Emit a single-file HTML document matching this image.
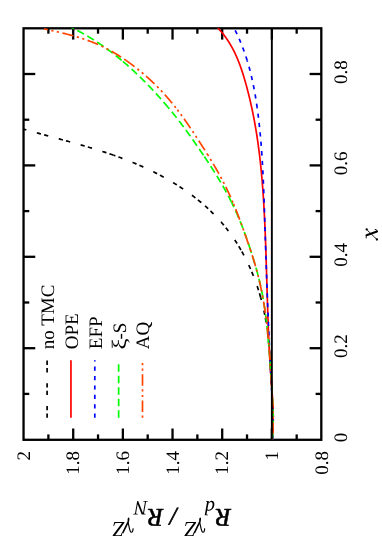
<!DOCTYPE html>
<html><head><meta charset="utf-8"><title>plot</title>
<style>html,body{margin:0;padding:0;background:#fff;}svg{display:block;will-change:transform;}text{font-family:"Liberation Serif",serif;fill:#000;text-rendering:geometricPrecision;}</style>
</head><body>
<svg width="382" height="544" viewBox="0 0 382 544">
<rect width="382" height="544" fill="#fff"/>
<defs><clipPath id="cp"><rect x="23.55" y="28.30" width="297.75" height="411.50"/></clipPath></defs>
<g stroke="#000" stroke-width="2.3" fill="none">
<line x1="48.38" y1="439.80" x2="48.38" y2="434.40"/>
<line x1="48.38" y1="28.30" x2="48.38" y2="33.70"/>
<line x1="73.21" y1="439.80" x2="73.21" y2="428.50"/>
<line x1="73.21" y1="28.30" x2="73.21" y2="39.60"/>
<line x1="98.04" y1="439.80" x2="98.04" y2="434.40"/>
<line x1="98.04" y1="28.30" x2="98.04" y2="33.70"/>
<line x1="122.87" y1="439.80" x2="122.87" y2="428.50"/>
<line x1="122.87" y1="28.30" x2="122.87" y2="39.60"/>
<line x1="147.70" y1="439.80" x2="147.70" y2="434.40"/>
<line x1="147.70" y1="28.30" x2="147.70" y2="33.70"/>
<line x1="172.53" y1="439.80" x2="172.53" y2="428.50"/>
<line x1="172.53" y1="28.30" x2="172.53" y2="39.60"/>
<line x1="197.36" y1="439.80" x2="197.36" y2="434.40"/>
<line x1="197.36" y1="28.30" x2="197.36" y2="33.70"/>
<line x1="222.19" y1="439.80" x2="222.19" y2="428.50"/>
<line x1="222.19" y1="28.30" x2="222.19" y2="39.60"/>
<line x1="247.02" y1="439.80" x2="247.02" y2="434.40"/>
<line x1="247.02" y1="28.30" x2="247.02" y2="33.70"/>
<line x1="271.85" y1="439.80" x2="271.85" y2="428.50"/>
<line x1="271.85" y1="28.30" x2="271.85" y2="39.60"/>
<line x1="296.68" y1="439.80" x2="296.68" y2="434.40"/>
<line x1="296.68" y1="28.30" x2="296.68" y2="33.70"/>
<line x1="23.55" y1="393.90" x2="29.25" y2="393.90"/>
<line x1="321.30" y1="393.90" x2="315.60" y2="393.90"/>
<line x1="23.55" y1="348.20" x2="35.25" y2="348.20"/>
<line x1="321.30" y1="348.20" x2="309.60" y2="348.20"/>
<line x1="23.55" y1="302.50" x2="29.25" y2="302.50"/>
<line x1="321.30" y1="302.50" x2="315.60" y2="302.50"/>
<line x1="23.55" y1="256.80" x2="35.25" y2="256.80"/>
<line x1="321.30" y1="256.80" x2="309.60" y2="256.80"/>
<line x1="23.55" y1="211.10" x2="29.25" y2="211.10"/>
<line x1="321.30" y1="211.10" x2="315.60" y2="211.10"/>
<line x1="23.55" y1="165.40" x2="35.25" y2="165.40"/>
<line x1="321.30" y1="165.40" x2="309.60" y2="165.40"/>
<line x1="23.55" y1="119.70" x2="29.25" y2="119.70"/>
<line x1="321.30" y1="119.70" x2="315.60" y2="119.70"/>
<line x1="23.55" y1="74.00" x2="35.25" y2="74.00"/>
<line x1="321.30" y1="74.00" x2="309.60" y2="74.00"/>
<rect x="23.55" y="28.30" width="297.75" height="411.50"/>
</g>
<g fill="none" stroke-width="1.7" clip-path="url(#cp)">
<path d="M272.09 439.60 L272.14 439.25 L272.23 438.51 L272.32 437.76 L272.41 437.02 L272.49 436.27 L272.57 435.53 L272.64 434.78 L272.71 434.03 L272.78 433.29 L272.84 432.54 L272.89 431.79 L272.94 431.04 L272.99 430.29 L273.03 429.55 L273.07 428.80 L273.11 428.05 L273.14 427.30 L273.17 426.55 L273.19 425.80 L273.22 425.05 L273.23 424.30 L273.25 423.55 L273.26 422.80 L273.27 422.05 L273.27 421.30 L273.28 420.55 L273.28 419.80 L273.27 419.05 L273.27 418.30 L273.26 417.55 L273.25 416.80 L273.23 416.04 L273.22 415.29 L273.20 414.54 L273.18 413.79 L273.15 413.04 L273.13 412.28 L273.10 411.53 L273.07 410.78 L273.04 410.03 L273.01 409.27 L272.98 408.52 L272.94 407.77 L272.90 407.02 L272.86 406.26 L272.82 405.51 L272.78 404.76 L272.74 404.00 L272.70 403.25 L272.65 402.50 L272.61 401.75 L272.56 400.99 L272.51 400.24 L272.46 399.49 L272.42 398.73 L272.37 397.98 L272.32 397.23 L272.27 396.47 L272.22 395.72 L272.17 394.97 L272.11 394.21 L272.06 393.46 L272.01 392.71 L271.98 392.20" stroke="#000" stroke-dasharray="4.3 3.2 4.3 10.9"/>
<path d="M271.98 392.20 L271.96 391.96 L271.91 391.20 L271.86 390.45 L271.81 389.70 L271.76 388.94 L271.71 388.19 L271.66 387.44 L271.62 386.69 L271.57 385.93 L271.52 385.18 L271.48 384.43 L271.43 383.68 L271.38 382.93 L271.34 382.17 L271.29 381.42 L271.25 380.67 L271.21 379.92 L271.16 379.17 L271.12 378.41 L271.07 377.66 L271.03 376.91 L270.99 376.16 L270.95 375.41 L270.90 374.66 L270.86 373.91 L270.82 373.16 L270.77 372.41 L270.73 371.66 L270.69 370.91 L270.64 370.16 L270.60 369.41 L270.56 368.66 L270.51 367.91 L270.47 367.16 L270.42 366.41 L270.38 365.66 L270.33 364.91 L270.29 364.16 L270.24 363.41 L270.20 362.66 L270.15 361.91 L270.10 361.16 L270.06 360.41 L270.01 359.66 L269.96 358.92 L269.91 358.17 L269.86 357.42 L269.81 356.67 L269.75 355.92 L269.70 355.18 L269.65 354.43 L269.59 353.68 L269.54 352.93 L269.48 352.19 L269.43 351.44 L269.37 350.69 L269.31 349.95 L269.25 349.20 L269.19 348.45 L269.13 347.71 L269.06 346.96 L269.00 346.22 L268.93 345.47 L268.87 344.80" stroke="#000" stroke-dasharray="4.3 3.2 4.3 10.9"/>
<path d="M268.87 344.80 L268.87 344.72 L268.80 343.98 L268.73 343.23 L268.66 342.49 L268.59 341.74 L268.51 341.00 L268.44 340.25 L268.36 339.51 L268.28 338.77 L268.21 338.02 L268.12 337.28 L268.04 336.53 L267.96 335.79 L267.87 335.05 L267.78 334.30 L267.70 333.56 L267.61 332.82 L267.51 332.08 L267.42 331.33 L267.32 330.59 L267.22 329.85 L267.12 329.11 L267.02 328.37 L266.92 327.62 L266.81 326.88 L266.70 326.14 L266.59 325.40 L266.48 324.66 L266.37 323.92 L266.25 323.18 L266.13 322.44 L266.01 321.70 L265.89 320.96 L265.76 320.22 L265.64 319.48 L265.51 318.74 L265.37 318.00 L265.24 317.26 L265.10 316.53 L264.96 315.79 L264.82 315.05 L264.68 314.31 L264.53 313.58 L264.38 312.84 L264.23 312.10 L264.07 311.36 L263.92 310.63 L263.76 309.89 L263.59 309.16 L263.43 308.42 L263.26 307.69 L263.09 306.95 L262.92 306.22 L262.74 305.48 L262.57 304.75 L262.39 304.02 L262.21 303.29 L262.02 302.55 L261.83 301.82 L261.64 301.09 L261.45 300.36 L261.26 299.63 L261.06 298.90 L260.86 298.17 L260.66 297.45 L260.65 297.40" stroke="#000" stroke-dasharray="4.3 3.2 4.3 10.9"/>
<path d="M260.65 297.40 L260.45 296.72 L260.25 295.99 L260.04 295.27 L259.82 294.54 L259.61 293.82 L259.39 293.09 L259.17 292.37 L258.95 291.64 L258.73 290.92 L258.50 290.20 L258.27 289.48 L258.04 288.76 L257.80 288.04 L257.56 287.32 L257.32 286.61 L257.08 285.89 L256.84 285.17 L256.59 284.46 L256.34 283.74 L256.09 283.03 L255.83 282.32 L255.58 281.61 L255.32 280.90 L255.05 280.19 L254.79 279.48 L254.52 278.77 L254.25 278.06 L253.98 277.36 L253.70 276.65 L253.43 275.95 L253.15 275.25 L252.86 274.55 L252.58 273.85 L252.29 273.15 L252.00 272.45 L251.71 271.75 L251.41 271.05 L251.12 270.36 L250.82 269.67 L250.51 268.97 L250.21 268.28 L249.90 267.59 L249.59 266.90 L249.28 266.22 L248.96 265.53 L248.65 264.84 L248.33 264.16 L248.00 263.48 L247.68 262.80 L247.35 262.12 L247.02 261.44 L246.69 260.76 L246.35 260.09 L246.01 259.41 L245.67 258.74 L245.33 258.07 L244.99 257.40 L244.64 256.73 L244.29 256.06 L243.93 255.40 L243.58 254.73 L243.22 254.07 L242.86 253.41 L242.50 252.75 L242.13 252.09 L241.76 251.43 L241.39 250.78 L241.02 250.12 L240.95 250.00" stroke="#000" stroke-dasharray="4.3 3.2 4.3 10.9"/>
<path d="M240.95 250.00 L240.64 249.47 L240.27 248.82 L239.89 248.17 L239.50 247.53 L239.12 246.88 L238.73 246.24 L238.34 245.60 L237.94 244.96 L237.55 244.32 L237.15 243.68 L236.75 243.05 L236.35 242.41 L235.94 241.78 L235.53 241.15 L235.12 240.53 L234.71 239.90 L234.29 239.28 L233.87 238.65 L233.45 238.03 L233.03 237.42 L232.60 236.80 L232.17 236.19 L231.74 235.57 L231.31 234.96 L230.87 234.35 L230.43 233.75 L229.99 233.14 L229.55 232.54 L229.10 231.94 L228.65 231.34 L228.20 230.74 L227.75 230.15 L227.29 229.56 L226.83 228.97 L226.37 228.38 L225.91 227.79 L225.44 227.21 L224.97 226.63 L224.50 226.05 L224.03 225.47 L223.55 224.90 L223.07 224.32 L222.59 223.75 L222.10 223.19 L221.62 222.62 L221.13 222.06 L220.64 221.49 L220.14 220.94 L219.64 220.38 L219.15 219.82 L218.64 219.27 L218.14 218.72 L217.63 218.17 L217.12 217.63 L216.61 217.08 L216.10 216.54 L215.58 216.00 L215.07 215.46 L214.55 214.93 L214.02 214.40 L213.50 213.87 L212.97 213.34 L212.44 212.81 L211.91 212.29 L211.37 211.77 L210.84 211.25 L210.30 210.73 L209.76 210.21 L209.22 209.70 L208.67 209.19 L208.12 208.68 L207.57 208.17 L207.02 207.67 L206.47 207.17 L205.91 206.66 L205.36 206.17 L204.80 205.67 L204.24 205.18 L203.67 204.68 L203.11 204.19 L202.54 203.71 L201.97 203.22 L201.40 202.74 L201.23 202.60" stroke="#000" stroke-dasharray="4.3 3.2 4.3 10.9"/>
<path d="M201.23 202.60 L200.82 202.25 L200.25 201.78 L199.67 201.30 L199.09 200.82 L198.51 200.35 L197.93 199.88 L197.34 199.41 L196.76 198.94 L196.17 198.48 L195.58 198.01 L194.99 197.55 L194.39 197.09 L193.80 196.64 L193.20 196.18 L192.60 195.73 L192.00 195.28 L191.40 194.83 L190.79 194.38 L190.18 193.94 L189.58 193.49 L188.97 193.05 L188.36 192.62 L187.74 192.18 L187.13 191.74 L186.51 191.31 L185.90 190.88 L185.28 190.45 L184.66 190.02 L184.04 189.60 L183.41 189.18 L182.79 188.75 L182.16 188.34 L181.53 187.92 L180.90 187.50 L180.27 187.09 L179.64 186.68 L179.01 186.27 L178.37 185.86 L177.73 185.46 L177.10 185.05 L176.46 184.65 L175.82 184.25 L175.17 183.85 L174.53 183.46 L173.89 183.06 L173.24 182.67 L172.59 182.28 L171.95 181.89 L171.30 181.51 L170.65 181.12 L169.99 180.74 L169.34 180.36 L168.69 179.98 L168.03 179.60 L167.37 179.23 L166.72 178.85 L166.06 178.48 L165.40 178.11 L164.74 177.74 L164.07 177.38 L163.41 177.01 L162.75 176.65 L162.08 176.29 L161.41 175.93 L160.75 175.57 L160.08 175.22 L159.41 174.87 L158.74 174.51 L158.07 174.16 L157.39 173.82 L156.72 173.47 L156.05 173.13 L155.37 172.78 L154.70 172.44 L154.02 172.10 L153.34 171.77 L152.66 171.43 L151.99 171.10 L151.31 170.76 L150.62 170.43 L149.94 170.11 L149.26 169.78 L148.58 169.45 L147.89 169.13 L147.21 168.81 L146.52 168.49 L145.84 168.17 L145.15 167.85 L144.46 167.54 L143.78 167.23 L143.09 166.91 L142.40 166.61 L141.71 166.30 L141.02 165.99 L140.33 165.69 L139.64 165.38 L138.95 165.08 L138.25 164.78 L137.56 164.49 L136.87 164.19 L136.17 163.89 L135.48 163.60 L134.78 163.31 L134.09 163.02 L133.39 162.73 L132.70 162.45 L132.00 162.16 L131.30 161.88 L130.61 161.60 L129.91 161.32 L129.21 161.04 L128.51 160.76 L127.81 160.49 L127.12 160.21 L126.42 159.94 L125.72 159.67 L125.01 159.40 L124.31 159.13 L123.61 158.87 L122.91 158.60 L122.21 158.34 L121.51 158.08 L120.80 157.81 L120.10 157.56 L119.40 157.30 L118.69 157.04 L117.99 156.78 L117.28 156.53 L116.58 156.28 L115.87 156.03 L115.17 155.78 L114.46 155.53 L113.76 155.28 L113.53 155.20" stroke="#000" stroke-dasharray="4.3 3.2 4.3 10.9"/>
<path d="M113.53 155.20 L113.05 155.03 L112.34 154.79 L111.63 154.54 L110.93 154.30 L110.22 154.06 L109.51 153.82 L108.80 153.58 L108.09 153.34 L107.38 153.10 L106.67 152.86 L105.96 152.63 L105.25 152.39 L104.54 152.16 L103.83 151.93 L103.12 151.70 L102.41 151.47 L101.70 151.24 L100.98 151.01 L100.27 150.78 L99.56 150.56 L98.84 150.33 L98.13 150.11 L97.42 149.88 L96.70 149.66 L95.99 149.44 L95.27 149.22 L94.56 149.00 L93.84 148.78 L93.13 148.56 L92.41 148.34 L91.70 148.12 L90.98 147.91 L90.26 147.69 L89.55 147.48 L88.83 147.26 L88.11 147.05 L87.39 146.84 L86.68 146.63 L85.96 146.41 L85.24 146.20 L84.52 145.99 L83.80 145.78 L83.08 145.58 L82.36 145.37 L81.64 145.16 L80.92 144.95 L80.20 144.75 L79.48 144.54 L78.76 144.33 L78.04 144.13 L77.32 143.92 L76.60 143.72 L75.88 143.52 L75.16 143.31 L74.44 143.11 L73.71 142.91 L72.99 142.71 L72.27 142.50 L71.55 142.30 L70.82 142.10 L70.10 141.90 L69.38 141.70 L68.65 141.50 L67.93 141.30 L67.21 141.10 L66.48 140.90 L65.76 140.71 L65.03 140.51 L64.31 140.31 L63.58 140.11 L62.86 139.91 L62.13 139.71 L61.41 139.52 L60.68 139.32 L59.96 139.12 L59.23 138.92 L58.51 138.73 L57.78 138.53 L57.05 138.33 L56.33 138.14 L55.60 137.94 L54.87 137.74 L54.15 137.55 L53.42 137.35 L52.69 137.15 L51.97 136.96 L51.24 136.76 L50.51 136.56 L49.78 136.36 L49.06 136.17 L48.33 135.97 L47.60 135.77 L46.87 135.57 L46.14 135.38 L45.42 135.18 L44.69 134.98 L43.96 134.78 L43.23 134.58 L42.50 134.39 L41.77 134.19 L41.04 133.99 L40.31 133.79 L39.59 133.59 L38.86 133.39 L38.13 133.19 L37.40 132.99 L36.67 132.79 L35.94 132.59 L35.21 132.38 L34.48 132.18 L33.75 131.98 L33.02 131.78 L32.29 131.57 L31.56 131.37 L30.83 131.17 L30.10 130.96 L29.37 130.76 L28.64 130.55 L27.91 130.35 L27.18 130.14 L26.45 129.93 L25.72 129.72 L24.99 129.52 L24.26 129.31 L18.49 127.66 L18.49 107.80" stroke="#000" stroke-dasharray="4.3 3.2 4.3 10.9"/>
<path d="M272.15 440.03 L272.22 439.33 L272.30 438.63 L272.37 437.93 L272.43 437.23 L272.50 436.53 L272.56 435.83 L272.62 435.13 L272.67 434.43 L272.73 433.73 L272.78 433.03 L272.82 432.33 L272.87 431.63 L272.91 430.92 L272.95 430.22 L272.98 429.52 L273.01 428.82 L273.05 428.12 L273.07 427.42 L273.10 426.72 L273.12 426.03 L273.14 425.33 L273.16 424.63 L273.18 423.93 L273.19 423.23 L273.20 422.53 L273.21 421.83 L273.22 421.13 L273.22 420.43 L273.22 419.73 L273.22 419.03 L273.22 418.33 L273.22 417.63 L273.21 416.93 L273.20 416.23 L273.19 415.53 L273.18 414.83 L273.17 414.14 L273.16 413.44 L273.14 412.74 L273.12 412.04 L273.10 411.34 L273.08 410.64 L273.06 409.94 L273.03 409.24 L273.01 408.54 L272.98 407.85 L272.95 407.15 L272.92 406.45 L272.89 405.75 L272.85 405.05 L272.82 404.35 L272.78 403.65 L272.75 402.96 L272.71 402.26 L272.67 401.56 L272.63 400.86 L272.59 400.16 L272.55 399.46 L272.51 398.76 L272.46 398.06 L272.42 397.37 L272.38 396.67 L272.33 395.97 L272.28 395.27 L272.24 394.57 L272.19 393.87 L272.14 393.18 L272.09 392.48 L272.04 391.78 L271.99 391.08 L271.94 390.38 L271.89 389.68 L271.84 388.98 L271.79 388.29 L271.74 387.59 L271.69 386.89 L271.63 386.19 L271.58 385.49 L271.53 384.79 L271.48 384.09 L271.43 383.39 L271.37 382.70 L271.32 382.00 L271.27 381.30 L271.22 380.60 L271.16 379.90 L271.11 379.20 L271.06 378.50 L271.01 377.80 L270.96 377.11 L270.91 376.41 L270.86 375.71 L270.81 375.01 L270.76 374.31 L270.71 373.61 L270.66 372.91 L270.62 372.21 L270.57 371.51 L270.52 370.81 L270.48 370.11 L270.43 369.41 L270.38 368.72 L270.34 368.02 L270.29 367.32 L270.25 366.62 L270.21 365.92 L270.16 365.22 L270.12 364.52 L270.08 363.82 L270.03 363.12 L269.99 362.42 L269.95 361.72 L269.91 361.02 L269.87 360.32 L269.83 359.62 L269.79 358.92 L269.75 358.22 L269.71 357.52 L269.67 356.82 L269.63 356.12 L269.59 355.42 L269.55 354.72 L269.51 354.02 L269.48 353.32 L269.44 352.62 L269.40 351.92 L269.37 351.22 L269.33 350.52 L269.29 349.82 L269.26 349.12 L269.22 348.42 L269.19 347.72 L269.15 347.02 L269.12 346.32 L269.09 345.62 L269.05 344.92 L269.02 344.22 L268.99 343.52 L268.95 342.82 L268.92 342.12 L268.89 341.42 L268.86 340.72 L268.83 340.02 L268.79 339.32 L268.76 338.62 L268.73 337.92 L268.70 337.22 L268.67 336.52 L268.64 335.82 L268.61 335.12 L268.58 334.42 L268.55 333.72 L268.52 333.02 L268.49 332.31 L268.47 331.61 L268.44 330.91 L268.41 330.21 L268.38 329.51 L268.35 328.81 L268.33 328.11 L268.30 327.41 L268.27 326.71 L268.24 326.01 L268.22 325.31 L268.19 324.61 L268.17 323.91 L268.14 323.21 L268.11 322.51 L268.09 321.80 L268.06 321.10 L268.04 320.40 L268.01 319.70 L267.99 319.00 L267.96 318.30 L267.94 317.60 L267.91 316.90 L267.89 316.20 L267.86 315.50 L267.84 314.80 L267.82 314.10 L267.79 313.40 L267.77 312.69 L267.75 311.99 L267.72 311.29 L267.70 310.59 L267.68 309.89 L267.65 309.19 L267.63 308.49 L267.61 307.79 L267.59 307.09 L267.56 306.39 L267.54 305.69 L267.52 304.98 L267.50 304.28 L267.48 303.58 L267.45 302.88 L267.43 302.18 L267.41 301.48 L267.39 300.78 L267.37 300.08 L267.35 299.38 L267.32 298.68 L267.30 297.97 L267.28 297.27 L267.26 296.57 L267.24 295.87 L267.22 295.17 L267.20 294.47 L267.18 293.77 L267.16 293.07 L267.14 292.37 L267.11 291.67 L267.09 290.96 L267.07 290.26 L267.05 289.56 L267.03 288.86 L267.01 288.16 L266.99 287.46 L266.97 286.76 L266.95 286.06 L266.93 285.36 L266.91 284.66 L266.89 283.96 L266.87 283.25 L266.85 282.55 L266.83 281.85 L266.81 281.15 L266.79 280.45 L266.77 279.75 L266.75 279.05 L266.73 278.35 L266.71 277.65 L266.69 276.95 L266.66 276.24 L266.64 275.54 L266.62 274.84 L266.60 274.14 L266.58 273.44 L266.56 272.74 L266.54 272.04 L266.52 271.34 L266.50 270.64 L266.48 269.94 L266.46 269.24 L266.44 268.54 L266.42 267.83 L266.39 267.13 L266.37 266.43 L266.35 265.73 L266.33 265.03 L266.31 264.33 L266.29 263.63 L266.27 262.93 L266.24 262.23 L266.22 261.53 L266.20 260.83 L266.18 260.13 L266.16 259.43 L266.13 258.73 L266.11 258.03 L266.09 257.32 L266.07 256.62 L266.04 255.92 L266.02 255.22 L266.00 254.52 L265.97 253.82 L265.95 253.12 L265.93 252.42 L265.90 251.72 L265.88 251.02 L265.86 250.32 L265.83 249.62 L265.81 248.92 L265.79 248.22 L265.76 247.52 L265.74 246.82 L265.71 246.12 L265.69 245.42 L265.66 244.72 L265.64 244.02 L265.61 243.32 L265.58 242.62 L265.56 241.92 L265.53 241.22 L265.51 240.52 L265.48 239.82 L265.45 239.12 L265.43 238.42 L265.40 237.72 L265.37 237.02 L265.35 236.32 L265.32 235.62 L265.29 234.92 L265.26 234.22 L265.23 233.52 L265.20 232.82 L265.18 232.12 L265.15 231.42 L265.12 230.72 L265.09 230.02 L265.06 229.32 L265.03 228.62 L265.00 227.92 L264.97 227.22 L264.94 226.52 L264.91 225.82 L264.87 225.12 L264.84 224.42 L264.81 223.72 L264.78 223.02 L264.75 222.32 L264.71 221.62 L264.68 220.92 L264.65 220.22 L264.61 219.52 L264.58 218.82 L264.54 218.12 L264.51 217.42 L264.48 216.73 L264.44 216.03 L264.40 215.33 L264.37 214.63 L264.33 213.93 L264.30 213.23 L264.26 212.53 L264.22 211.83 L264.18 211.13 L264.15 210.43 L264.11 209.73 L264.07 209.04 L264.03 208.34 L263.99 207.64 L263.95 206.94 L263.91 206.24 L263.87 205.54 L263.83 204.84 L263.79 204.15 L263.75 203.45 L263.71 202.75 L263.66 202.05 L263.62 201.35 L263.58 200.65 L263.53 199.95 L263.49 199.26 L263.44 198.56 L263.40 197.86 L263.35 197.16 L263.31 196.46 L263.26 195.77 L263.21 195.07 L263.16 194.37 L263.12 193.67 L263.07 192.97 L263.02 192.28 L262.97 191.58 L262.92 190.88 L262.87 190.18 L262.82 189.48 L262.77 188.79 L262.71 188.09 L262.66 187.39 L262.61 186.69 L262.55 186.00 L262.50 185.30 L262.44 184.60 L262.39 183.90 L262.33 183.21 L262.28 182.51 L262.22 181.81 L262.16 181.12 L262.10 180.42 L262.05 179.72 L261.99 179.02 L261.93 178.33 L261.86 177.63 L261.80 176.93 L261.74 176.24 L261.68 175.54 L261.62 174.84 L261.55 174.15 L261.49 173.45 L261.42 172.75 L261.36 172.06 L261.29 171.36 L261.22 170.67 L261.16 169.97 L261.09 169.27 L261.02 168.58 L260.95 167.88 L260.88 167.19 L260.81 166.49 L260.74 165.79 L260.66 165.10 L260.59 164.40 L260.52 163.71 L260.44 163.01 L260.37 162.32 L260.29 161.62 L260.21 160.92 L260.14 160.23 L260.06 159.53 L259.98 158.84 L259.90 158.14 L259.82 157.45 L259.74 156.75 L259.66 156.06 L259.57 155.36 L259.49 154.67 L259.41 153.97 L259.32 153.28 L259.24 152.58 L259.15 151.89 L259.06 151.20 L258.97 150.50 L258.88 149.81 L258.79 149.11 L258.70 148.42 L258.61 147.72 L258.52 147.03 L258.43 146.34 L258.33 145.64 L258.24 144.95 L258.14 144.25 L258.04 143.56 L257.95 142.87 L257.85 142.17 L257.75 141.48 L257.65 140.79 L257.55 140.09 L257.45 139.40 L257.34 138.71 L257.24 138.01 L257.14 137.32 L257.03 136.63 L256.92 135.93 L256.82 135.24 L256.71 134.55 L256.60 133.86 L256.49 133.16 L256.38 132.47 L256.27 131.78 L256.15 131.09 L256.04 130.39 L255.92 129.70 L255.81 129.01 L255.69 128.32 L255.57 127.63 L255.46 126.93 L255.34 126.24 L255.21 125.55 L255.09 124.86 L254.97 124.17 L254.85 123.48 L254.72 122.78 L254.60 122.09 L254.47 121.40 L254.34 120.71 L254.21 120.02 L254.08 119.33 L253.95 118.64 L253.82 117.95 L253.69 117.26 L253.55 116.57 L253.42 115.88 L253.28 115.19 L253.14 114.50 L253.01 113.81 L252.87 113.12 L252.73 112.43 L252.58 111.74 L252.44 111.05 L252.30 110.36 L252.15 109.67 L252.01 108.98 L251.86 108.29 L251.71 107.60 L251.56 106.92 L251.41 106.23 L251.26 105.54 L251.11 104.85 L250.96 104.17 L250.80 103.48 L250.65 102.79 L250.49 102.11 L250.33 101.42 L250.17 100.73 L250.01 100.05 L249.85 99.36 L249.69 98.68 L249.53 97.99 L249.36 97.31 L249.20 96.62 L249.03 95.94 L248.86 95.26 L248.69 94.57 L248.52 93.89 L248.35 93.21 L248.18 92.52 L248.01 91.84 L247.83 91.16 L247.66 90.48 L247.48 89.80 L247.30 89.12 L247.12 88.44 L246.94 87.76 L246.76 87.08 L246.58 86.40 L246.39 85.72 L246.21 85.04 L246.02 84.37 L245.83 83.69 L245.64 83.01 L245.45 82.33 L245.26 81.66 L245.07 80.98 L244.88 80.31 L244.68 79.63 L244.48 78.96 L244.28 78.29 L244.08 77.62 L243.88 76.94 L243.68 76.27 L243.47 75.60 L243.26 74.93 L243.06 74.27 L242.84 73.60 L242.63 72.93 L242.42 72.27 L242.20 71.60 L241.98 70.94 L241.76 70.27 L241.53 69.61 L241.31 68.95 L241.08 68.29 L240.85 67.63 L240.62 66.97 L240.38 66.32 L240.14 65.66 L239.90 65.01 L239.66 64.36 L239.41 63.71 L239.16 63.06 L238.91 62.41 L238.66 61.76 L238.40 61.11 L238.14 60.47 L237.88 59.83 L237.61 59.18 L237.34 58.54 L237.07 57.91 L236.80 57.27 L236.52 56.63 L236.24 56.00 L235.95 55.37 L235.67 54.74 L235.38 54.11 L235.08 53.48 L234.78 52.86 L234.48 52.23 L234.18 51.61 L233.87 50.99 L233.55 50.37 L233.24 49.76 L232.92 49.14 L232.60 48.53 L232.27 47.92 L231.94 47.31 L231.60 46.71 L231.26 46.10 L230.92 45.50 L230.57 44.90 L230.22 44.30 L229.86 43.71 L229.50 43.12 L229.14 42.53 L228.77 41.94 L228.40 41.35 L228.02 40.77 L227.64 40.19 L227.25 39.61 L226.86 39.03 L226.47 38.46 L226.07 37.88 L225.66 37.31 L225.25 36.75 L224.84 36.18 L224.42 35.62 L223.99 35.06 L223.56 34.51 L223.13 33.95 L222.69 33.40 L222.25 32.85 L221.80 32.31 L221.34 31.77 L220.88 31.23 L220.42 30.69 L219.95 30.16 L219.47 29.62 L218.99 29.10 L214.98 24.63" stroke="#ff0000"/>
<path d="M272.60 439.60 L272.61 439.33 L272.64 438.65 L272.67 437.96 L272.69 437.27 L272.71 436.58 L272.73 435.89 L272.75 435.20 L272.77 434.51 L272.78 433.82 L272.80 433.13 L272.81 432.44 L272.83 431.76 L272.84 431.07 L272.85 430.38 L272.85 429.69 L272.86 429.00 L272.87 428.31 L272.87 427.62 L272.87 426.93 L272.88 426.24 L272.88 425.55 L272.88 424.86 L272.87 424.17 L272.87 423.48 L272.87 422.79 L272.86 422.11 L272.86 421.42 L272.85 420.73 L272.84 420.04 L272.83 419.35 L272.82 418.66 L272.81 417.97 L272.80 417.28 L272.78 416.59 L272.77 415.90 L272.75 415.21 L272.74 414.52 L272.72 413.83 L272.70 413.14 L272.68 412.45 L272.66 411.76 L272.64 411.07 L272.62 410.38 L272.60 409.70 L272.58 409.01 L272.55 408.32 L272.53 407.63 L272.50 406.94 L272.48 406.25 L272.45 405.56 L272.43 404.87 L272.40 404.18 L272.37 403.49 L272.34 402.80 L272.31 402.11 L272.28 401.42 L272.25 400.73 L272.22 400.04 L272.19 399.35 L272.16 398.66 L272.12 397.97 L272.09 397.28 L272.06 396.59 L272.02 395.90 L271.99 395.21 L271.95 394.52 L271.92 393.83 L271.88 393.14 L271.85 392.45 L271.83 392.20" stroke="#0000ff" stroke-dasharray="4.2 5.2"/>
<path d="M271.83 392.20 L271.81 391.76 L271.78 391.07 L271.74 390.38 L271.70 389.69 L271.67 389.00 L271.63 388.32 L271.59 387.63 L271.55 386.94 L271.52 386.25 L271.48 385.56 L271.44 384.87 L271.40 384.18 L271.36 383.49 L271.33 382.80 L271.29 382.11 L271.25 381.42 L271.21 380.73 L271.17 380.04 L271.13 379.35 L271.10 378.66 L271.06 377.97 L271.02 377.28 L270.98 376.59 L270.94 375.90 L270.91 375.21 L270.87 374.52 L270.83 373.83 L270.79 373.14 L270.76 372.45 L270.72 371.76 L270.68 371.07 L270.64 370.38 L270.61 369.69 L270.57 369.00 L270.54 368.31 L270.50 367.62 L270.46 366.93 L270.43 366.24 L270.39 365.55 L270.35 364.86 L270.32 364.17 L270.28 363.48 L270.25 362.79 L270.21 362.10 L270.18 361.41 L270.14 360.72 L270.11 360.03 L270.07 359.34 L270.04 358.65 L270.00 357.96 L269.97 357.27 L269.93 356.58 L269.90 355.89 L269.87 355.20 L269.83 354.51 L269.80 353.82 L269.76 353.13 L269.73 352.44 L269.70 351.75 L269.66 351.06 L269.63 350.37 L269.60 349.68 L269.56 348.99 L269.53 348.30 L269.50 347.61 L269.47 346.92 L269.43 346.23 L269.40 345.54 L269.37 344.85 L269.37 344.80" stroke="#0000ff" stroke-dasharray="4.2 5.2"/>
<path d="M269.37 344.80 L269.34 344.16 L269.30 343.47 L269.27 342.78 L269.24 342.09 L269.21 341.40 L269.18 340.71 L269.14 340.02 L269.11 339.33 L269.08 338.64 L269.05 337.95 L269.02 337.26 L268.99 336.57 L268.96 335.88 L268.93 335.19 L268.89 334.51 L268.86 333.82 L268.83 333.13 L268.80 332.44 L268.77 331.75 L268.74 331.06 L268.71 330.37 L268.68 329.68 L268.65 328.99 L268.62 328.30 L268.59 327.61 L268.56 326.92 L268.53 326.23 L268.50 325.54 L268.47 324.85 L268.44 324.16 L268.41 323.47 L268.38 322.78 L268.36 322.09 L268.33 321.40 L268.30 320.71 L268.27 320.02 L268.24 319.33 L268.21 318.64 L268.18 317.95 L268.15 317.26 L268.13 316.57 L268.10 315.88 L268.07 315.19 L268.04 314.50 L268.01 313.80 L267.98 313.11 L267.96 312.42 L267.93 311.73 L267.90 311.04 L267.87 310.35 L267.85 309.66 L267.82 308.97 L267.79 308.28 L267.76 307.59 L267.74 306.90 L267.71 306.21 L267.68 305.52 L267.65 304.83 L267.63 304.14 L267.60 303.45 L267.57 302.76 L267.55 302.07 L267.52 301.38 L267.49 300.69 L267.47 300.00 L267.44 299.31 L267.41 298.62 L267.39 297.93 L267.37 297.40" stroke="#0000ff" stroke-dasharray="4.2 5.2"/>
<path d="M267.37 297.40 L267.36 297.24 L267.33 296.55 L267.31 295.86 L267.28 295.17 L267.26 294.48 L267.23 293.79 L267.20 293.10 L267.18 292.41 L267.15 291.72 L267.13 291.03 L267.10 290.34 L267.08 289.65 L267.05 288.96 L267.03 288.27 L267.00 287.58 L266.97 286.89 L266.95 286.20 L266.92 285.51 L266.90 284.82 L266.87 284.13 L266.85 283.44 L266.82 282.75 L266.80 282.06 L266.77 281.37 L266.75 280.68 L266.72 279.99 L266.70 279.30 L266.68 278.61 L266.65 277.92 L266.63 277.23 L266.60 276.54 L266.58 275.85 L266.55 275.16 L266.53 274.47 L266.50 273.78 L266.48 273.08 L266.46 272.39 L266.43 271.70 L266.41 271.01 L266.38 270.32 L266.36 269.63 L266.34 268.94 L266.31 268.25 L266.29 267.56 L266.26 266.87 L266.24 266.18 L266.22 265.49 L266.19 264.80 L266.17 264.11 L266.15 263.42 L266.12 262.73 L266.10 262.04 L266.08 261.35 L266.05 260.66 L266.03 259.97 L266.01 259.28 L265.98 258.59 L265.96 257.90 L265.94 257.21 L265.91 256.52 L265.89 255.83 L265.87 255.13 L265.84 254.44 L265.82 253.75 L265.80 253.06 L265.77 252.37 L265.75 251.68 L265.73 250.99 L265.71 250.30 L265.70 250.00" stroke="#0000ff" stroke-dasharray="4.2 5.2"/>
<path d="M265.70 250.00 L265.68 249.61 L265.66 248.92 L265.64 248.23 L265.61 247.54 L265.59 246.85 L265.57 246.16 L265.55 245.47 L265.52 244.78 L265.50 244.09 L265.48 243.40 L265.46 242.71 L265.43 242.02 L265.41 241.32 L265.39 240.63 L265.37 239.94 L265.34 239.25 L265.32 238.56 L265.30 237.87 L265.28 237.18 L265.25 236.49 L265.23 235.80 L265.21 235.11 L265.19 234.42 L265.16 233.73 L265.14 233.04 L265.12 232.35 L265.10 231.66 L265.08 230.97 L265.05 230.27 L265.03 229.58 L265.01 228.89 L264.99 228.20 L264.96 227.51 L264.94 226.82 L264.92 226.13 L264.90 225.44 L264.88 224.75 L264.85 224.06 L264.83 223.37 L264.81 222.68 L264.79 221.99 L264.76 221.29 L264.74 220.60 L264.72 219.91 L264.70 219.22 L264.68 218.53 L264.65 217.84 L264.63 217.15 L264.61 216.46 L264.59 215.77 L264.57 215.08 L264.54 214.39 L264.52 213.70 L264.50 213.01 L264.48 212.31 L264.45 211.62 L264.43 210.93 L264.41 210.24 L264.39 209.55 L264.36 208.86 L264.34 208.17 L264.32 207.48 L264.29 206.79 L264.27 206.10 L264.25 205.41 L264.23 204.72 L264.20 204.02 L264.18 203.33 L264.15 202.64 L264.15 202.60" stroke="#0000ff" stroke-dasharray="4.2 5.2"/>
<path d="M264.15 202.60 L264.13 201.95 L264.11 201.26 L264.08 200.57 L264.06 199.88 L264.03 199.19 L264.01 198.50 L263.99 197.81 L263.96 197.12 L263.94 196.43 L263.91 195.73 L263.88 195.04 L263.86 194.35 L263.83 193.66 L263.81 192.97 L263.78 192.28 L263.75 191.59 L263.73 190.90 L263.70 190.21 L263.67 189.52 L263.65 188.83 L263.62 188.14 L263.59 187.45 L263.56 186.76 L263.53 186.07 L263.50 185.37 L263.48 184.68 L263.45 183.99 L263.42 183.30 L263.39 182.61 L263.36 181.92 L263.33 181.23 L263.30 180.54 L263.26 179.85 L263.23 179.16 L263.20 178.47 L263.17 177.78 L263.14 177.09 L263.10 176.40 L263.07 175.71 L263.04 175.02 L263.00 174.33 L262.97 173.64 L262.94 172.95 L262.90 172.26 L262.87 171.57 L262.83 170.88 L262.79 170.19 L262.76 169.50 L262.72 168.81 L262.68 168.12 L262.65 167.43 L262.61 166.74 L262.57 166.05 L262.53 165.36 L262.49 164.67 L262.45 163.98 L262.41 163.29 L262.37 162.60 L262.33 161.91 L262.29 161.22 L262.25 160.53 L262.20 159.84 L262.16 159.15 L262.12 158.46 L262.07 157.77 L262.03 157.08 L261.98 156.39 L261.94 155.70 L261.90 155.20" stroke="#0000ff" stroke-dasharray="4.2 5.2"/>
<path d="M261.90 155.20 L261.89 155.01 L261.84 154.32 L261.80 153.64 L261.75 152.95 L261.70 152.26 L261.65 151.57 L261.60 150.88 L261.55 150.19 L261.50 149.50 L261.45 148.81 L261.40 148.12 L261.35 147.43 L261.30 146.75 L261.24 146.06 L261.19 145.37 L261.13 144.68 L261.08 143.99 L261.02 143.30 L260.97 142.61 L260.91 141.92 L260.85 141.24 L260.79 140.55 L260.74 139.86 L260.68 139.17 L260.62 138.48 L260.56 137.79 L260.49 137.11 L260.43 136.42 L260.37 135.73 L260.31 135.04 L260.24 134.35 L260.18 133.67 L260.11 132.98 L260.05 132.29 L259.98 131.60 L259.91 130.91 L259.84 130.23 L259.77 129.54 L259.70 128.85 L259.63 128.16 L259.56 127.48 L259.49 126.79 L259.42 126.10 L259.34 125.41 L259.27 124.73 L259.20 124.04 L259.12 123.35 L259.04 122.67 L258.97 121.98 L258.89 121.29 L258.81 120.61 L258.73 119.92 L258.65 119.23 L258.57 118.55 L258.49 117.86 L258.40 117.17 L258.32 116.49 L258.23 115.80 L258.15 115.11 L258.06 114.43 L257.98 113.74 L257.89 113.05 L257.80 112.37 L257.71 111.68 L257.62 111.00 L257.53 110.31 L257.43 109.63 L257.34 108.94 L257.25 108.25 L257.18 107.80" stroke="#0000ff" stroke-dasharray="4.2 5.2"/>
<path d="M257.18 107.80 L257.15 107.57 L257.05 106.88 L256.96 106.20 L256.86 105.52 L256.76 104.83 L256.66 104.15 L256.55 103.46 L256.45 102.78 L256.35 102.09 L256.24 101.41 L256.14 100.73 L256.03 100.04 L255.92 99.36 L255.81 98.68 L255.70 98.00 L255.59 97.31 L255.47 96.63 L255.36 95.95 L255.24 95.27 L255.12 94.59 L255.01 93.91 L254.89 93.23 L254.76 92.55 L254.64 91.87 L254.52 91.19 L254.39 90.51 L254.27 89.83 L254.14 89.15 L254.01 88.47 L253.88 87.79 L253.75 87.11 L253.61 86.44 L253.48 85.76 L253.34 85.08 L253.20 84.41 L253.06 83.73 L252.92 83.06 L252.78 82.38 L252.63 81.71 L252.49 81.03 L252.34 80.36 L252.19 79.68 L252.04 79.01 L251.89 78.34 L251.73 77.67 L251.58 76.99 L251.42 76.32 L251.26 75.65 L251.10 74.98 L250.94 74.31 L250.78 73.64 L250.61 72.97 L250.44 72.30 L250.27 71.64 L250.10 70.97 L249.93 70.30 L249.76 69.64 L249.58 68.97 L249.40 68.30 L249.22 67.64 L249.04 66.97 L248.85 66.31 L248.67 65.65 L248.48 64.99 L248.29 64.32 L248.10 63.66 L247.91 63.00 L247.71 62.34 L247.51 61.68 L247.31 61.02 L247.12 60.40" stroke="#0000ff" stroke-dasharray="4.2 5.2"/>
<path d="M247.12 60.40 L247.11 60.36 L246.91 59.71 L246.70 59.05 L246.50 58.39 L246.29 57.74 L246.07 57.08 L245.86 56.43 L245.64 55.77 L245.43 55.12 L245.21 54.47 L244.98 53.81 L244.76 53.16 L244.53 52.51 L244.30 51.86 L244.07 51.21 L243.84 50.57 L243.60 49.92 L243.36 49.27 L243.12 48.62 L242.88 47.98 L242.64 47.33 L242.39 46.69 L242.14 46.05 L241.89 45.40 L241.63 44.76 L241.38 44.12 L241.12 43.48 L240.86 42.84 L240.59 42.20 L240.33 41.57 L240.06 40.93 L239.79 40.29 L239.51 39.66 L239.24 39.02 L238.96 38.39 L238.68 37.76 L238.39 37.13 L238.11 36.50 L237.82 35.87 L237.53 35.24 L237.23 34.61 L236.94 33.98 L236.64 33.35 L236.34 32.73 L236.03 32.10 L235.72 31.48 L235.41 30.86 L235.10 30.24 L232.43 24.86 L232.43 20.30" stroke="#0000ff" stroke-dasharray="4.2 5.2"/>
<path d="M272.22 439.60 L272.26 439.22 L272.34 438.42 L272.41 437.63 L272.48 436.83 L272.54 436.03 L272.60 435.24 L272.66 434.44 L272.71 433.65 L272.76 432.85 L272.81 432.05 L272.85 431.26 L272.89 430.46 L272.92 429.66 L272.95 428.87 L272.98 428.07 L273.01 427.27 L273.03 426.48 L273.05 425.68 L273.06 424.88 L273.08 424.09 L273.09 423.29 L273.09 422.49 L273.10 421.69 L273.10 420.90 L273.10 420.10 L273.10 419.30 L273.09 418.51 L273.08 417.71 L273.07 416.91 L273.06 416.11 L273.05 415.32 L273.03 414.52 L273.01 413.72 L272.99 412.92 L272.97 412.13 L272.95 411.33 L272.92 410.53 L272.90 409.73 L272.87 408.94 L272.84 408.14 L272.81 407.34 L272.78 406.54 L272.75 405.74 L272.71 404.95 L272.68 404.15 L272.64 403.35 L272.61 402.55 L272.57 401.76 L272.53 400.96 L272.49 400.16 L272.46 399.36 L272.42 398.56 L272.38 397.77 L272.34 396.97 L272.30 396.17 L272.26 395.37 L272.21 394.57 L272.17 393.77 L272.13 392.98 L272.09 392.20" stroke="#00ff00" stroke-dasharray="7.6 3.9"/>
<path d="M272.09 392.20 L272.09 392.18 L272.04 391.38 L272.00 390.58 L271.96 389.78 L271.91 388.99 L271.87 388.19 L271.82 387.39 L271.78 386.59 L271.73 385.79 L271.68 384.99 L271.64 384.20 L271.59 383.40 L271.54 382.60 L271.49 381.80 L271.44 381.00 L271.39 380.21 L271.34 379.41 L271.29 378.61 L271.24 377.81 L271.19 377.01 L271.14 376.21 L271.08 375.42 L271.03 374.62 L270.98 373.82 L270.93 373.02 L270.87 372.22 L270.82 371.43 L270.76 370.63 L270.71 369.83 L270.65 369.03 L270.59 368.23 L270.54 367.44 L270.48 366.64 L270.42 365.84 L270.37 365.04 L270.31 364.24 L270.25 363.45 L270.19 362.65 L270.13 361.85 L270.07 361.05 L270.01 360.26 L269.95 359.46 L269.89 358.66 L269.82 357.86 L269.76 357.07 L269.70 356.27 L269.63 355.47 L269.57 354.67 L269.51 353.88 L269.44 353.08 L269.38 352.28 L269.31 351.48 L269.25 350.69 L269.18 349.89 L269.11 349.09 L269.05 348.30 L268.98 347.50 L268.91 346.70 L268.84 345.91 L268.77 345.11 L268.75 344.80" stroke="#00ff00" stroke-dasharray="7.6 3.9"/>
<path d="M268.75 344.80 L268.70 344.31 L268.63 343.52 L268.56 342.72 L268.49 341.92 L268.42 341.13 L268.35 340.33 L268.28 339.53 L268.20 338.74 L268.13 337.94 L268.06 337.15 L267.98 336.35 L267.91 335.56 L267.83 334.76 L267.75 333.96 L267.68 333.17 L267.60 332.37 L267.52 331.58 L267.44 330.78 L267.36 329.99 L267.27 329.19 L267.19 328.40 L267.11 327.61 L267.02 326.81 L266.94 326.02 L266.85 325.22 L266.76 324.43 L266.67 323.64 L266.58 322.84 L266.49 322.05 L266.40 321.26 L266.30 320.46 L266.21 319.67 L266.11 318.88 L266.01 318.09 L265.91 317.30 L265.81 316.50 L265.71 315.71 L265.61 314.92 L265.50 314.13 L265.40 313.34 L265.29 312.55 L265.18 311.76 L265.07 310.97 L264.96 310.18 L264.85 309.39 L264.73 308.60 L264.62 307.81 L264.50 307.02 L264.38 306.24 L264.26 305.45 L264.13 304.66 L264.01 303.87 L263.88 303.09 L263.75 302.30 L263.62 301.51 L263.49 300.73 L263.36 299.94 L263.22 299.16 L263.08 298.37 L262.94 297.59 L262.91 297.40" stroke="#00ff00" stroke-dasharray="7.6 3.9"/>
<path d="M262.91 297.40 L262.80 296.80 L262.66 296.02 L262.51 295.23 L262.36 294.45 L262.21 293.67 L262.06 292.88 L261.91 292.10 L261.75 291.32 L261.59 290.54 L261.43 289.76 L261.27 288.98 L261.10 288.19 L260.94 287.41 L260.77 286.64 L260.59 285.86 L260.42 285.08 L260.24 284.30 L260.06 283.52 L259.88 282.74 L259.70 281.97 L259.51 281.19 L259.33 280.41 L259.14 279.64 L258.94 278.86 L258.75 278.09 L258.55 277.31 L258.36 276.54 L258.16 275.76 L257.95 274.99 L257.75 274.22 L257.55 273.44 L257.34 272.67 L257.13 271.90 L256.92 271.13 L256.70 270.35 L256.49 269.58 L256.27 268.81 L256.06 268.04 L255.84 267.27 L255.62 266.50 L255.39 265.73 L255.17 264.96 L254.94 264.20 L254.72 263.43 L254.49 262.66 L254.26 261.89 L254.03 261.13 L253.80 260.36 L253.56 259.59 L253.33 258.83 L253.09 258.06 L252.86 257.29 L252.62 256.53 L252.38 255.77 L252.14 255.00 L251.90 254.24 L251.65 253.47 L251.41 252.71 L251.16 251.95 L250.92 251.18 L250.67 250.42 L250.53 250.00" stroke="#00ff00" stroke-dasharray="7.6 3.9"/>
<path d="M250.53 250.00 L250.42 249.66 L250.18 248.90 L249.93 248.14 L249.67 247.38 L249.42 246.62 L249.17 245.86 L248.92 245.10 L248.66 244.34 L248.40 243.58 L248.15 242.82 L247.89 242.06 L247.63 241.31 L247.36 240.55 L247.10 239.79 L246.84 239.04 L246.57 238.28 L246.30 237.53 L246.04 236.77 L245.77 236.02 L245.49 235.27 L245.22 234.52 L244.95 233.76 L244.67 233.01 L244.40 232.26 L244.12 231.51 L243.84 230.76 L243.56 230.02 L243.27 229.27 L242.99 228.52 L242.70 227.78 L242.41 227.03 L242.12 226.29 L241.83 225.54 L241.54 224.80 L241.25 224.06 L240.95 223.31 L240.65 222.57 L240.35 221.83 L240.05 221.09 L239.75 220.36 L239.44 219.62 L239.13 218.88 L238.83 218.14 L238.51 217.41 L238.20 216.68 L237.89 215.94 L237.57 215.21 L237.25 214.48 L236.93 213.75 L236.61 213.02 L236.28 212.29 L235.96 211.56 L235.63 210.84 L235.30 210.11 L234.97 209.38 L234.63 208.66 L234.29 207.94 L233.96 207.22 L233.61 206.50 L233.27 205.78 L232.93 205.06 L232.58 204.34 L232.23 203.62 L231.88 202.91 L231.72 202.60" stroke="#00ff00" stroke-dasharray="7.6 3.9"/>
<path d="M231.72 202.60 L231.52 202.19 L231.17 201.48 L230.81 200.77 L230.45 200.06 L230.08 199.35 L229.72 198.64 L229.35 197.93 L228.99 197.22 L228.62 196.51 L228.24 195.81 L227.87 195.10 L227.49 194.40 L227.12 193.70 L226.74 193.00 L226.36 192.29 L225.97 191.59 L225.59 190.90 L225.20 190.20 L224.81 189.50 L224.42 188.80 L224.03 188.11 L223.64 187.41 L223.24 186.72 L222.85 186.03 L222.45 185.33 L222.05 184.64 L221.65 183.95 L221.25 183.26 L220.84 182.57 L220.44 181.88 L220.03 181.20 L219.62 180.51 L219.21 179.82 L218.80 179.14 L218.39 178.45 L217.97 177.77 L217.56 177.09 L217.14 176.40 L216.72 175.72 L216.30 175.04 L215.88 174.36 L215.46 173.68 L215.04 173.00 L214.62 172.32 L214.19 171.65 L213.76 170.97 L213.34 170.29 L212.91 169.62 L212.48 168.94 L212.05 168.27 L211.62 167.60 L211.18 166.92 L210.75 166.25 L210.31 165.58 L209.88 164.91 L209.44 164.24 L209.00 163.57 L208.57 162.90 L208.13 162.23 L207.69 161.56 L207.24 160.89 L206.80 160.22 L206.36 159.56 L205.92 158.89 L205.47 158.22 L205.03 157.56 L204.58 156.89 L204.14 156.23 L203.69 155.56 L203.44 155.20" stroke="#00ff00" stroke-dasharray="7.6 3.9"/>
<path d="M203.44 155.20 L203.24 154.90 L202.79 154.24 L202.34 153.58 L201.89 152.91 L201.44 152.25 L200.99 151.59 L200.54 150.93 L200.09 150.27 L199.64 149.61 L199.19 148.95 L198.73 148.29 L198.28 147.63 L197.83 146.97 L197.37 146.31 L196.92 145.66 L196.46 145.00 L196.01 144.34 L195.55 143.69 L195.10 143.03 L194.64 142.37 L194.18 141.72 L193.73 141.06 L193.27 140.41 L192.81 139.75 L192.35 139.10 L191.89 138.45 L191.43 137.80 L190.97 137.14 L190.51 136.49 L190.05 135.84 L189.59 135.19 L189.12 134.54 L188.66 133.89 L188.19 133.25 L187.73 132.60 L187.26 131.95 L186.79 131.31 L186.32 130.66 L185.86 130.02 L185.39 129.37 L184.91 128.73 L184.44 128.09 L183.97 127.45 L183.49 126.81 L183.02 126.17 L182.54 125.53 L182.07 124.89 L181.59 124.26 L181.11 123.62 L180.63 122.99 L180.14 122.35 L179.66 121.72 L179.18 121.09 L178.69 120.46 L178.20 119.83 L177.71 119.20 L177.23 118.57 L176.73 117.95 L176.24 117.32 L175.75 116.70 L175.25 116.07 L174.76 115.45 L174.26 114.83 L173.76 114.21 L173.26 113.59 L172.76 112.98 L172.26 112.36 L171.75 111.74 L171.25 111.13 L170.74 110.51 L170.23 109.90 L169.72 109.29 L169.21 108.67 L168.70 108.06 L168.48 107.80" stroke="#00ff00" stroke-dasharray="7.6 3.9"/>
<path d="M168.48 107.80 L168.19 107.45 L167.68 106.84 L167.16 106.24 L166.65 105.63 L166.13 105.02 L165.61 104.42 L165.09 103.81 L164.57 103.21 L164.05 102.60 L163.53 102.00 L163.00 101.40 L162.48 100.80 L161.95 100.19 L161.43 99.59 L160.90 98.99 L160.37 98.40 L159.84 97.80 L159.31 97.20 L158.77 96.61 L158.24 96.01 L157.71 95.42 L157.17 94.82 L156.63 94.23 L156.09 93.64 L155.55 93.05 L155.01 92.46 L154.47 91.87 L153.93 91.28 L153.39 90.69 L152.84 90.11 L152.29 89.52 L151.75 88.94 L151.20 88.36 L150.65 87.78 L150.10 87.19 L149.54 86.62 L148.99 86.04 L148.43 85.46 L147.88 84.88 L147.32 84.31 L146.76 83.73 L146.20 83.16 L145.64 82.59 L145.08 82.02 L144.52 81.45 L143.95 80.88 L143.39 80.31 L142.82 79.75 L142.25 79.18 L141.68 78.62 L141.11 78.06 L140.54 77.50 L139.97 76.94 L139.39 76.38 L138.82 75.82 L138.24 75.27 L137.66 74.71 L137.08 74.16 L136.50 73.61 L135.92 73.06 L135.34 72.51 L134.75 71.96 L134.17 71.41 L133.58 70.87 L132.99 70.33 L132.40 69.79 L131.81 69.25 L131.22 68.71 L130.63 68.17 L130.03 67.63 L129.44 67.10 L128.84 66.57 L128.24 66.04 L127.64 65.51 L127.04 64.98 L126.44 64.45 L125.84 63.93 L125.23 63.41 L124.63 62.88 L124.02 62.36 L123.41 61.85 L122.80 61.33 L122.19 60.82 L121.69 60.40" stroke="#00ff00" stroke-dasharray="7.6 3.9"/>
<path d="M121.69 60.40 L121.57 60.30 L120.96 59.79 L120.34 59.28 L119.73 58.77 L119.11 58.27 L118.49 57.76 L117.87 57.26 L117.25 56.76 L116.62 56.26 L116.00 55.76 L115.37 55.27 L114.74 54.78 L114.12 54.28 L113.49 53.79 L112.85 53.31 L112.22 52.82 L111.59 52.34 L110.95 51.85 L110.31 51.37 L109.67 50.90 L109.03 50.42 L108.39 49.95 L107.75 49.47 L107.11 49.00 L106.46 48.53 L105.81 48.07 L105.16 47.60 L104.51 47.14 L103.86 46.68 L103.21 46.22 L102.56 45.77 L101.90 45.31 L101.24 44.86 L100.59 44.41 L99.93 43.97 L99.27 43.52 L98.60 43.08 L97.94 42.64 L97.27 42.20 L96.61 41.76 L95.94 41.33 L95.27 40.89 L94.60 40.47 L93.92 40.04 L93.25 39.61 L92.57 39.19 L91.90 38.77 L91.22 38.35 L90.54 37.93 L89.86 37.52 L89.17 37.11 L88.49 36.70 L87.80 36.29 L87.12 35.89 L86.43 35.49 L85.74 35.09 L85.04 34.69 L84.35 34.30 L83.66 33.91 L82.96 33.52 L82.26 33.13 L81.56 32.75 L80.86 32.36 L80.16 31.98 L79.45 31.61 L78.75 31.23 L78.04 30.86 L77.33 30.49 L76.62 30.13 L71.30 27.35 L71.30 20.30" stroke="#00ff00" stroke-dasharray="7.6 3.9"/>
<path d="M272.21 439.60 L272.26 439.17 L272.35 438.33 L272.43 437.49 L272.51 436.66 L272.58 435.82 L272.65 434.98 L272.72 434.14 L272.77 433.30 L272.83 432.46 L272.88 431.62 L272.92 430.78 L272.96 429.94 L272.99 429.10 L273.02 428.27 L273.05 427.43 L273.07 426.59 L273.09 425.75 L273.10 424.91 L273.11 424.07 L273.12 423.23 L273.12 422.39 L273.12 421.55 L273.12 420.71 L273.12 419.87 L273.11 419.03 L273.09 418.19 L273.08 417.35 L273.06 416.51 L273.04 415.67 L273.02 414.83 L273.00 413.99 L272.97 413.15 L272.94 412.31 L272.91 411.47 L272.88 410.63 L272.85 409.79 L272.81 408.95 L272.77 408.11 L272.74 407.27 L272.70 406.43 L272.66 405.59 L272.62 404.75 L272.58 403.91 L272.54 403.07 L272.49 402.23 L272.45 401.39 L272.41 400.55 L272.37 399.70 L272.32 398.86 L272.28 398.02 L272.24 397.18 L272.19 396.34 L272.15 395.50 L272.11 394.66 L272.07 393.82 L272.02 392.98 L271.98 392.20" stroke="#ff4500" stroke-dasharray="2.2 3.6 11.4 3.5 2.2 3.4"/>
<path d="M271.98 392.20 L271.98 392.13 L271.94 391.29 L271.89 390.45 L271.85 389.61 L271.80 388.77 L271.76 387.93 L271.72 387.08 L271.67 386.24 L271.63 385.40 L271.58 384.56 L271.54 383.72 L271.49 382.88 L271.44 382.03 L271.40 381.19 L271.35 380.35 L271.30 379.51 L271.26 378.67 L271.21 377.83 L271.16 376.98 L271.11 376.14 L271.06 375.30 L271.02 374.46 L270.97 373.62 L270.92 372.78 L270.86 371.93 L270.81 371.09 L270.76 370.25 L270.71 369.41 L270.66 368.57 L270.60 367.73 L270.55 366.88 L270.50 366.04 L270.44 365.20 L270.39 364.36 L270.33 363.52 L270.27 362.68 L270.22 361.84 L270.16 361.00 L270.10 360.15 L270.04 359.31 L269.98 358.47 L269.92 357.63 L269.86 356.79 L269.80 355.95 L269.74 355.11 L269.67 354.27 L269.61 353.43 L269.54 352.59 L269.48 351.75 L269.41 350.91 L269.34 350.07 L269.28 349.23 L269.21 348.39 L269.14 347.55 L269.07 346.71 L268.99 345.87 L268.92 345.03 L268.90 344.80" stroke="#ff4500" stroke-dasharray="2.2 3.6 11.4 3.5 2.2 3.4"/>
<path d="M268.90 344.80 L268.85 344.19 L268.77 343.35 L268.70 342.51 L268.62 341.67 L268.54 340.83 L268.47 339.99 L268.39 339.16 L268.31 338.32 L268.23 337.48 L268.14 336.64 L268.06 335.80 L267.97 334.96 L267.89 334.13 L267.80 333.29 L267.71 332.45 L267.63 331.61 L267.54 330.78 L267.44 329.94 L267.35 329.10 L267.26 328.27 L267.16 327.43 L267.07 326.59 L266.97 325.76 L266.87 324.92 L266.77 324.09 L266.67 323.25 L266.57 322.41 L266.46 321.58 L266.36 320.74 L266.25 319.91 L266.14 319.07 L266.03 318.24 L265.92 317.41 L265.81 316.57 L265.70 315.74 L265.58 314.91 L265.47 314.07 L265.35 313.24 L265.23 312.41 L265.11 311.57 L264.99 310.74 L264.86 309.91 L264.74 309.08 L264.61 308.25 L264.48 307.42 L264.35 306.59 L264.22 305.76 L264.08 304.93 L263.95 304.10 L263.81 303.27 L263.67 302.44 L263.53 301.61 L263.39 300.78 L263.24 299.95 L263.10 299.13 L262.95 298.30 L262.80 297.47 L262.79 297.40" stroke="#ff4500" stroke-dasharray="2.2 3.6 11.4 3.5 2.2 3.4"/>
<path d="M262.79 297.40 L262.65 296.65 L262.49 295.82 L262.34 294.99 L262.18 294.17 L262.02 293.34 L261.86 292.52 L261.70 291.69 L261.53 290.87 L261.37 290.05 L261.20 289.22 L261.02 288.40 L260.85 287.58 L260.68 286.76 L260.50 285.94 L260.32 285.12 L260.14 284.29 L259.96 283.47 L259.77 282.66 L259.58 281.84 L259.39 281.02 L259.20 280.20 L259.01 279.38 L258.81 278.56 L258.61 277.75 L258.41 276.93 L258.21 276.12 L258.00 275.30 L257.79 274.49 L257.58 273.67 L257.37 272.86 L257.15 272.04 L256.94 271.23 L256.72 270.42 L256.49 269.61 L256.27 268.80 L256.04 267.99 L255.81 267.18 L255.58 266.37 L255.35 265.56 L255.11 264.75 L254.87 263.94 L254.63 263.13 L254.39 262.33 L254.15 261.52 L253.90 260.71 L253.65 259.91 L253.40 259.10 L253.15 258.30 L252.90 257.49 L252.64 256.69 L252.39 255.89 L252.13 255.08 L251.87 254.28 L251.61 253.48 L251.34 252.68 L251.08 251.87 L250.82 251.07 L250.55 250.27 L250.46 250.00" stroke="#ff4500" stroke-dasharray="2.2 3.6 11.4 3.5 2.2 3.4"/>
<path d="M250.46 250.00 L250.28 249.47 L250.01 248.67 L249.74 247.87 L249.47 247.07 L249.20 246.27 L248.93 245.47 L248.65 244.67 L248.38 243.87 L248.10 243.08 L247.83 242.28 L247.55 241.48 L247.27 240.68 L246.99 239.88 L246.71 239.09 L246.43 238.29 L246.16 237.49 L245.88 236.70 L245.59 235.90 L245.31 235.10 L245.03 234.31 L244.75 233.51 L244.47 232.71 L244.19 231.92 L243.90 231.12 L243.62 230.33 L243.34 229.53 L243.05 228.74 L242.77 227.94 L242.48 227.15 L242.19 226.36 L241.90 225.56 L241.62 224.77 L241.33 223.98 L241.04 223.19 L240.75 222.39 L240.45 221.60 L240.16 220.81 L239.87 220.02 L239.57 219.23 L239.27 218.44 L238.98 217.66 L238.68 216.87 L238.38 216.08 L238.08 215.29 L237.78 214.51 L237.47 213.72 L237.17 212.94 L236.86 212.15 L236.55 211.37 L236.24 210.59 L235.93 209.81 L235.62 209.02 L235.31 208.24 L234.99 207.46 L234.68 206.68 L234.36 205.91 L234.04 205.13 L233.72 204.35 L233.39 203.58 L233.07 202.80 L232.98 202.60" stroke="#ff4500" stroke-dasharray="2.2 3.6 11.4 3.5 2.2 3.4"/>
<path d="M232.98 202.60 L232.74 202.03 L232.41 201.26 L232.08 200.48 L231.75 199.71 L231.41 198.94 L231.07 198.17 L230.73 197.40 L230.39 196.64 L230.05 195.87 L229.71 195.11 L229.36 194.34 L229.01 193.58 L228.66 192.82 L228.30 192.06 L227.95 191.30 L227.59 190.54 L227.23 189.78 L226.86 189.02 L226.50 188.27 L226.13 187.52 L225.76 186.76 L225.38 186.01 L225.01 185.26 L224.63 184.51 L224.25 183.76 L223.87 183.02 L223.48 182.27 L223.10 181.53 L222.71 180.78 L222.32 180.04 L221.92 179.30 L221.53 178.55 L221.13 177.81 L220.73 177.08 L220.33 176.34 L219.93 175.60 L219.52 174.86 L219.12 174.13 L218.71 173.39 L218.30 172.66 L217.89 171.93 L217.48 171.19 L217.06 170.46 L216.64 169.73 L216.23 169.00 L215.81 168.27 L215.38 167.54 L214.96 166.82 L214.54 166.09 L214.11 165.36 L213.68 164.64 L213.25 163.91 L212.82 163.19 L212.39 162.47 L211.96 161.74 L211.53 161.02 L211.09 160.30 L210.65 159.58 L210.22 158.86 L209.78 158.14 L209.34 157.42 L208.90 156.70 L208.45 155.98 L208.01 155.26 L207.97 155.20" stroke="#ff4500" stroke-dasharray="2.2 3.6 11.4 3.5 2.2 3.4"/>
<path d="M207.97 155.20 L207.56 154.55 L207.12 153.83 L206.67 153.11 L206.22 152.40 L205.78 151.68 L205.33 150.97 L204.88 150.26 L204.43 149.54 L203.97 148.83 L203.52 148.12 L203.07 147.40 L202.61 146.69 L202.16 145.98 L201.70 145.27 L201.25 144.56 L200.79 143.85 L200.33 143.14 L199.87 142.43 L199.42 141.72 L198.96 141.01 L198.50 140.31 L198.04 139.60 L197.58 138.89 L197.12 138.18 L196.65 137.48 L196.19 136.77 L195.73 136.06 L195.27 135.36 L194.81 134.65 L194.34 133.95 L193.88 133.24 L193.41 132.54 L192.95 131.84 L192.48 131.13 L192.02 130.43 L191.55 129.73 L191.08 129.03 L190.61 128.33 L190.14 127.63 L189.67 126.93 L189.20 126.23 L188.72 125.54 L188.25 124.84 L187.77 124.14 L187.29 123.45 L186.82 122.76 L186.34 122.07 L185.86 121.37 L185.37 120.68 L184.89 120.00 L184.40 119.31 L183.92 118.62 L183.43 117.94 L182.94 117.25 L182.45 116.57 L181.95 115.89 L181.46 115.21 L180.96 114.53 L180.46 113.86 L179.96 113.18 L179.46 112.51 L178.95 111.84 L178.45 111.17 L177.94 110.50 L177.43 109.83 L176.91 109.17 L176.40 108.50 L175.88 107.84 L175.85 107.80" stroke="#ff4500" stroke-dasharray="2.2 3.6 11.4 3.5 2.2 3.4"/>
<path d="M175.85 107.80 L175.36 107.18 L174.84 106.52 L174.32 105.87 L173.79 105.21 L173.26 104.56 L172.73 103.91 L172.20 103.26 L171.67 102.61 L171.13 101.96 L170.59 101.32 L170.05 100.68 L169.51 100.04 L168.96 99.40 L168.42 98.76 L167.87 98.13 L167.31 97.49 L166.76 96.86 L166.20 96.23 L165.65 95.61 L165.08 94.98 L164.52 94.36 L163.96 93.73 L163.39 93.11 L162.82 92.50 L162.25 91.88 L161.67 91.27 L161.10 90.65 L160.52 90.04 L159.94 89.44 L159.35 88.83 L158.77 88.23 L158.18 87.62 L157.59 87.02 L157.00 86.43 L156.40 85.83 L155.80 85.24 L155.20 84.64 L154.60 84.05 L154.00 83.47 L153.39 82.88 L152.78 82.30 L152.17 81.72 L151.56 81.14 L150.94 80.56 L150.32 79.98 L149.70 79.41 L149.08 78.84 L148.46 78.27 L147.83 77.71 L147.20 77.14 L146.57 76.58 L145.94 76.02 L145.30 75.47 L144.66 74.91 L144.02 74.36 L143.38 73.81 L142.74 73.26 L142.09 72.72 L141.45 72.17 L140.80 71.63 L140.14 71.10 L139.49 70.56 L138.83 70.03 L138.18 69.50 L137.52 68.97 L136.86 68.44 L136.19 67.92 L135.53 67.40 L134.86 66.88 L134.19 66.37 L133.52 65.85 L132.85 65.34 L132.17 64.84 L131.50 64.33 L130.82 63.83 L130.14 63.33 L129.46 62.83 L128.77 62.34 L128.09 61.85 L127.40 61.36 L126.71 60.87 L126.03 60.40" stroke="#ff4500" stroke-dasharray="2.2 3.6 11.4 3.5 2.2 3.4"/>
<path d="M126.03 60.40 L126.02 60.39 L125.33 59.91 L124.63 59.44 L123.94 58.96 L123.24 58.49 L122.54 58.03 L121.84 57.56 L121.13 57.10 L120.43 56.65 L119.72 56.19 L119.01 55.74 L118.30 55.29 L117.58 54.85 L116.87 54.41 L116.15 53.97 L115.43 53.54 L114.71 53.11 L113.99 52.69 L113.26 52.26 L112.53 51.84 L111.81 51.43 L111.07 51.02 L110.34 50.61 L109.61 50.21 L108.87 49.81 L108.13 49.41 L107.39 49.02 L106.65 48.63 L105.90 48.25 L105.16 47.87 L104.41 47.50 L103.66 47.13 L102.91 46.76 L102.15 46.40 L101.40 46.04 L100.64 45.68 L99.88 45.33 L99.11 44.99 L98.35 44.65 L97.58 44.31 L96.82 43.98 L96.05 43.65 L95.27 43.33 L94.50 43.01 L93.72 42.69 L92.95 42.38 L92.17 42.07 L91.39 41.77 L90.60 41.47 L89.82 41.17 L89.03 40.88 L88.25 40.59 L87.46 40.31 L86.67 40.02 L85.87 39.75 L85.08 39.47 L84.29 39.20 L83.49 38.94 L82.69 38.67 L81.89 38.41 L81.09 38.15 L80.29 37.90 L79.49 37.65 L78.68 37.40 L77.88 37.16 L77.07 36.92 L76.26 36.68 L75.45 36.44 L74.64 36.21 L73.83 35.98 L73.02 35.75 L72.21 35.53 L71.39 35.31 L70.58 35.09 L69.76 34.87 L68.94 34.66 L68.13 34.45 L67.31 34.23 L66.49 34.03 L65.67 33.82 L64.85 33.62 L64.03 33.41 L63.21 33.21 L62.39 33.01 L61.57 32.82 L60.74 32.62 L59.92 32.43 L59.10 32.24 L58.27 32.04 L57.45 31.85 L56.63 31.67 L55.80 31.48 L54.98 31.29 L54.16 31.11 L53.33 30.92 L52.51 30.74 L51.68 30.55 L50.86 30.37 L45.00 29.07 L45.00 20.30" stroke="#ff4500" stroke-dasharray="2.2 3.6 11.4 3.5 2.2 3.4"/>
</g>
<line x1="271.85" y1="28.30" x2="271.85" y2="439.80" stroke="#000" stroke-width="1.9"/>
<text font-size="19" text-anchor="end" transform="translate(29.55 451.00) rotate(-90)">2</text>
<text font-size="19" text-anchor="end" transform="translate(79.21 451.00) rotate(-90)">1.8</text>
<text font-size="19" text-anchor="end" transform="translate(128.87 451.00) rotate(-90)">1.6</text>
<text font-size="19" text-anchor="end" transform="translate(178.53 451.00) rotate(-90)">1.4</text>
<text font-size="19" text-anchor="end" transform="translate(228.19 451.00) rotate(-90)">1.2</text>
<text font-size="19" text-anchor="end" transform="translate(277.85 451.00) rotate(-90)">1</text>
<text font-size="19" text-anchor="end" transform="translate(327.51 451.00) rotate(-90)">0.8</text>
<text font-size="19" text-anchor="middle" transform="translate(347.00 437.60) rotate(-90)">0</text>
<text font-size="19" text-anchor="middle" transform="translate(347.00 346.20) rotate(-90)">0.2</text>
<text font-size="19" text-anchor="middle" transform="translate(347.00 254.80) rotate(-90)">0.4</text>
<text font-size="19" text-anchor="middle" transform="translate(347.00 163.40) rotate(-90)">0.6</text>
<text font-size="19" text-anchor="middle" transform="translate(347.00 72.00) rotate(-90)">0.8</text>
<line x1="47.10" y1="417.8" x2="47.10" y2="360.2" stroke="#000" stroke-width="1.7" stroke-dasharray="4.3 3.2 4.3 10.9" stroke-dashoffset="0"/>
<text font-size="19" transform="translate(54.00 349.20) rotate(-90)">no TMC</text>
<line x1="70.95" y1="417.8" x2="70.95" y2="360.2" stroke="#ff0000" stroke-width="1.7"/>
<text font-size="19" transform="translate(77.85 349.20) rotate(-90)">OPE</text>
<line x1="94.80" y1="417.8" x2="94.80" y2="360.2" stroke="#0000ff" stroke-width="1.7" stroke-dasharray="4.2 5.2" stroke-dashoffset="0"/>
<text font-size="19" transform="translate(101.70 349.20) rotate(-90)">EFP</text>
<line x1="118.65" y1="417.8" x2="118.65" y2="360.2" stroke="#00ff00" stroke-width="1.7" stroke-dasharray="7.6 3.9" stroke-dashoffset="0"/>
<text font-size="20.5" transform="translate(125.55 349.4) rotate(-90) scale(1.2 1)">ξ</text>
<text font-size="19" text-anchor="end" transform="translate(125.55 322.6) rotate(-90)">-S</text>
<line x1="142.50" y1="417.8" x2="142.50" y2="360.2" stroke="#ff4500" stroke-width="1.7" stroke-dasharray="2.2 3.6 11.4 3.5 2.2 3.4" stroke-dashoffset="0"/>
<text font-size="19" transform="translate(149.40 349.20) rotate(-90)">AQ</text>
<g stroke="#000" fill="none" stroke-linecap="round">
<path d="M366.5 235.2 L377.0 231.5" stroke-width="2.0"/>
<path d="M366.2 235.6 L366.2 238.0" stroke-width="0.9"/>
<path d="M377.1 231.3 C377.6 230.3 376.6 229.6 375.2 229.5" stroke-width="1.0"/>
<path d="M366.8 229.5 C368.5 231.5 370 233 371.5 234.3 C373.5 236 375.5 238 376.8 239.4" stroke-width="0.9"/>
<circle cx="366.7" cy="229.4" r="1.15" fill="#000" stroke="none"/>
<circle cx="376.9" cy="239.5" r="1.15" fill="#000" stroke="none"/>
</g>
<text font-size="25.5" font-style="italic" stroke="#000" stroke-width="0.55" transform="translate(231.00 508.80) rotate(180)">R</text>
<text font-size="20.5" font-style="italic" transform="translate(215.10 501.30) rotate(180)">d</text>
<g transform="translate(0.00 0.00)" stroke="#000" fill="none" stroke-linecap="round">
<ellipse cx="200.1" cy="519.7" rx="0.95" ry="2.1" fill="#000" stroke="none" transform="rotate(6 200.1 519.7)"/>
<path d="M199.9 521.6 L194.5 532.6" stroke-width="1.6"/>
<path d="M199.8 522.8 C200.5 526 201 529.3 201.9 531.3 C202.5 532.6 203.6 532.5 204.2 531.2 C204.6 530.3 204.7 529.4 204.6 528.7" stroke-width="1.15"/>
</g>
<text font-size="21.5" font-style="italic" transform="translate(196.40 521.50) rotate(180)">Z</text>
<text font-size="25.5" font-style="italic" stroke="#000" stroke-width="0.55" transform="translate(177.30 508.10) rotate(180)">/</text>
<text font-size="25.5" font-style="italic" stroke="#000" stroke-width="0.55" transform="translate(163.30 508.80) rotate(180)">R</text>
<text font-size="20.5" font-style="italic" transform="translate(147.70 500.80) rotate(180)">N</text>
<g transform="translate(-71.60 0.00)" stroke="#000" fill="none" stroke-linecap="round">
<ellipse cx="200.1" cy="519.7" rx="0.95" ry="2.1" fill="#000" stroke="none" transform="rotate(6 200.1 519.7)"/>
<path d="M199.9 521.6 L194.5 532.6" stroke-width="1.6"/>
<path d="M199.8 522.8 C200.5 526 201 529.3 201.9 531.3 C202.5 532.6 203.6 532.5 204.2 531.2 C204.6 530.3 204.7 529.4 204.6 528.7" stroke-width="1.15"/>
</g>
<text font-size="21.5" font-style="italic" transform="translate(124.80 521.50) rotate(180)">Z</text>
</svg></body></html>
